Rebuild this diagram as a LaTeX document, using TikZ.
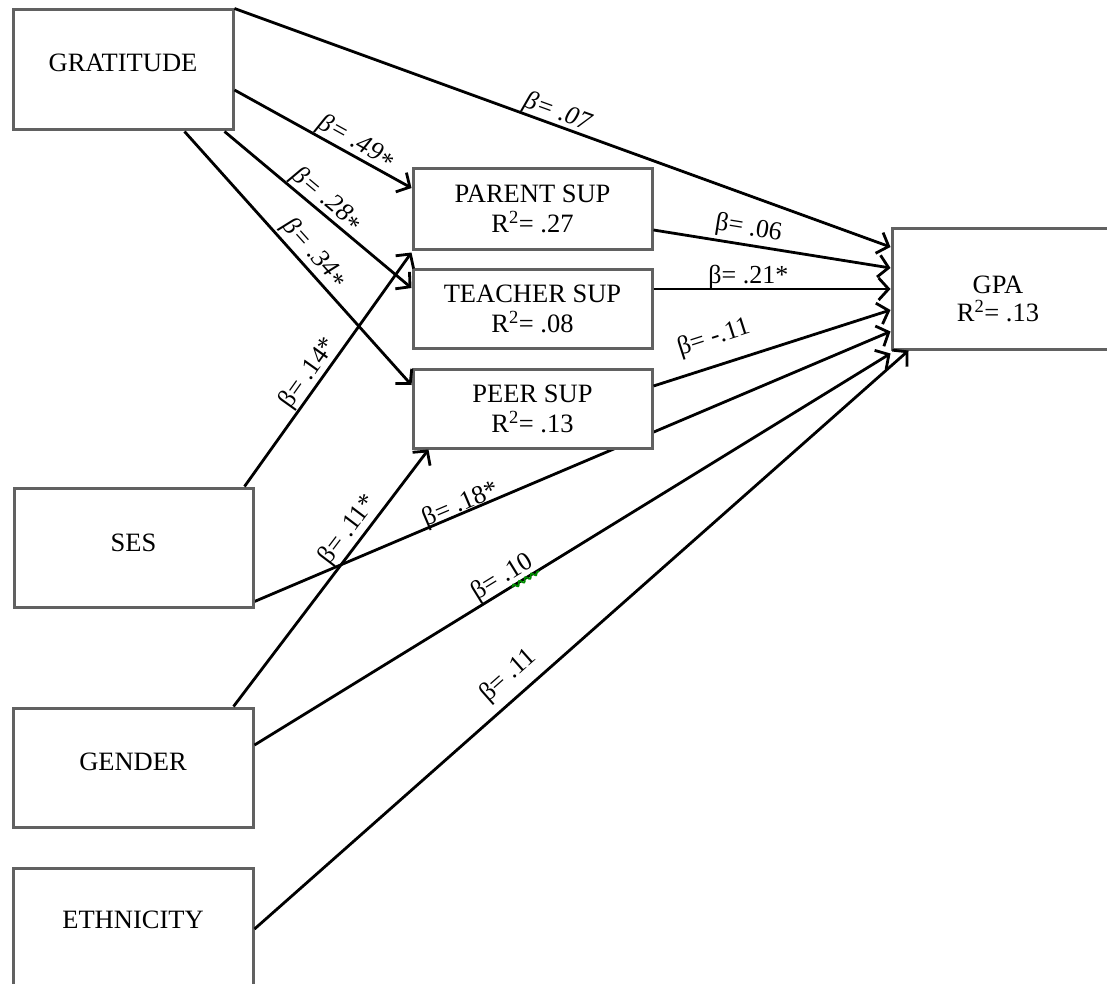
\documentclass[tikz,border=0pt]{standalone}
\usepackage{fontspec}
\setmainfont{Liberation Serif}
\usetikzlibrary{arrows.meta,backgrounds,decorations.pathmorphing,calc}
\begin{document}
\begin{tikzpicture}[x=1pt,y=-1pt,
  box/.style={draw=black!62, line width=3pt, fill=white, inner sep=0pt},
  txt/.style={font=\fontsize{26.5}{30}\selectfont, align=center, inner sep=0pt},
  conn/.style={line width=2.8pt, -{Straight Barb[length=10pt,width=22pt,line width=2.8pt]}},
  lab/.style={font=\fontsize{26}{30}\selectfont, sloped, inner sep=0pt},
  squig/.style={green!55!black, line width=1.8pt, decorate, decoration={snake, amplitude=2pt, segment length=7pt}},
]
\useasboundingbox (0,0) rectangle (1107,984);

% boxes
\node[box, minimum width=220pt, minimum height=120pt] (grat) at (123,70) {};
\node[txt] (gratT) at (123,63) {GRATITUDE};
\node[box, minimum width=239pt, minimum height=119pt] (ses) at (133.5,547.5) {};
\node[txt] (sesT) at (133.5,543) {SES};
\node[box, minimum width=240pt, minimum height=119pt] (gend) at (133,767.5) {};
\node[txt] (gendT) at (133,762) {GENDER};
\node[box, minimum width=240pt, minimum height=124pt] (eth) at (133,930) {};
\node[txt] (ethT) at (133,920) {ETHNICITY};

\node[box, txt, minimum width=239pt, minimum height=80pt] (par) at (532.5,209) {PARENT SUP\\R\textsuperscript{2}= .27};
\node[box, txt, minimum width=239pt, minimum height=79pt] (tea) at (532.5,308.5) {TEACHER SUP\\R\textsuperscript{2}= .08};
\node[box, txt, minimum width=239pt, minimum height=79pt] (peer) at (532.5,408.5) {PEER SUP\\R\textsuperscript{2}= .13};

\node[box, minimum width=218pt, minimum height=120pt] (gpa) at (1001,289) {};
\node[txt, font=\fontsize{26.5}{28}\selectfont] (gpaT) at (998,299) {GPA\\R\textsuperscript{2}= .13};

% connector hidden behind PEER SUP
\begin{pgfonlayer}{background}
\draw[conn] ([yshift=7pt]ses.south east) -- node[lab, pos=0.33, above=-5pt] {β= .18*} ([yshift=19pt]gpa.south west);
\end{pgfonlayer}

% connectors
\draw[conn] (grat.north east) -- node[lab, pos=0.486, above=-1pt] {\textit{β= .07}} ([yshift=42pt]gpa.west);
\draw[conn] ([yshift=-20pt]grat.east) -- node[lab, pos=0.65, above=0pt] {\textit{β= .49\raisebox{-5pt}{*}}} ([yshift=21pt]par.west);
\draw[conn] ([xshift=-10pt]grat.south east) -- node[lab, pos=0.5, above=0pt] {\textit{β= .28\raisebox{-5pt}{*}}} ([yshift=20.5pt]tea.west);
\draw[conn] ([xshift=-50pt]grat.south east) -- node[lab, pos=0.52, above=2pt] {\textit{β= .34\raisebox{-5pt}{*}}} ([yshift=23.5pt]peer.west);
\draw[conn] ([xshift=-10pt]ses.north east) -- node[lab, pos=0.45, above=0pt] {β= .14*} ([yshift=-2pt]par.south west);
\draw[conn] ([xshift=-21pt]gend.north east) -- node[lab, pos=0.65, above=2pt] {β= .11*} ([xshift=17pt]peer.south west);
\draw[conn] ([yshift=22.5pt]gend.east) -- node[lab, pos=0.4, above=-1pt] (l10) {β= .10} ([yshift=-3pt]gpa.south west);
\draw[squig] ($(l10.south)!0.1!(l10.south east)$) -- (l10.south east);
\draw[conn] ([yshift=1pt]eth.east) -- node[lab, pos=0.41, above=8pt] {β= .11} ([xshift=18pt]gpa.south west);
\draw[conn] ([yshift=-21pt]par.east) -- node[lab, pos=0.39, above=3pt] {β= .06} ([yshift=21pt]gpa.west);
\draw[conn] ([yshift=19.5pt]tea.east) -- node[lab, pos=0.4, above=-1pt] {β= .21*} (gpa.west);
\draw[conn] ([yshift=22.5pt]peer.east) -- node[lab, pos=0.29, above=14pt] {β= -.11} ([yshift=-21pt]gpa.west);
\end{tikzpicture}
\end{document}
